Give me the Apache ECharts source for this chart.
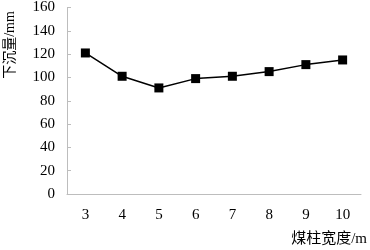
<!DOCTYPE html>
<html><head><meta charset="utf-8">
<script src="https://cdn.jsdelivr.net/npm/echarts@6/dist/echarts.min.js"></script>
<style>html,body{margin:0;padding:0;background:#fff}#c{width:370px;height:250px}</style>
</head><body><div id="c"></div>
<script>
const categories = ['3','4','5','6','7','8','9','10'];
const subsidence = [121, 101, 91, 99, 101, 105, 111, 115];
const yTicks = {min: 0, max: 160, interval: 20};
const xName = '煤柱宽度/m';
const yName = '下沉量/mm';

const numFont = '"Liberation Serif", "DejaVu Serif", serif';
const cjkFont = '"Liberation Serif", "Noto Sans CJK SC", serif';
const chart = echarts.init(document.getElementById('c'), null, {renderer: 'canvas'});
chart.setOption({
  animation: false,
  backgroundColor: '#fff',
  grid: {left: 67, right: 5, top: 5, bottom: 56, containLabel: false},
  xAxis: {
    type: 'category', data: categories, boundaryGap: true,
    axisLine: {lineStyle: {color: '#bdbdbd', width: 1}},
    axisTick: {inside: true, length: 4, lineStyle: {color: '#bdbdbd'}},
    axisLabel: {color: '#000', fontFamily: numFont, fontSize: 15, margin: 14},
    name: xName, nameLocation: 'end', nameGap: 6,
    nameTextStyle: {color: '#000', fontFamily: cjkFont, fontSize: 15, align: 'right', verticalAlign: 'top', padding: [38, 0, 0, 0]}
  },
  yAxis: {
    type: 'value', min: yTicks.min, max: yTicks.max, interval: yTicks.interval,
    axisLine: {show: true, lineStyle: {color: '#bdbdbd', width: 1}},
    axisTick: {show: true, inside: true, length: 4, lineStyle: {color: '#bdbdbd'}},
    splitLine: {show: false},
    axisLabel: {color: '#000', fontFamily: numFont, fontSize: 15, margin: 12}
  },
  graphic: [{
    type: 'text', x: 10, y: 45, rotation: Math.PI / 2,
    style: {text: yName, fill: '#000', font: '14px ' + cjkFont, textAlign: 'center', textVerticalAlign: 'middle'}
  }],
  series: [{
    type: 'line', data: subsidence,
    symbol: 'rect', symbolSize: 9,
    lineStyle: {color: '#000', width: 1.5},
    itemStyle: {color: '#000'}
  }]
});
</script></body></html>
